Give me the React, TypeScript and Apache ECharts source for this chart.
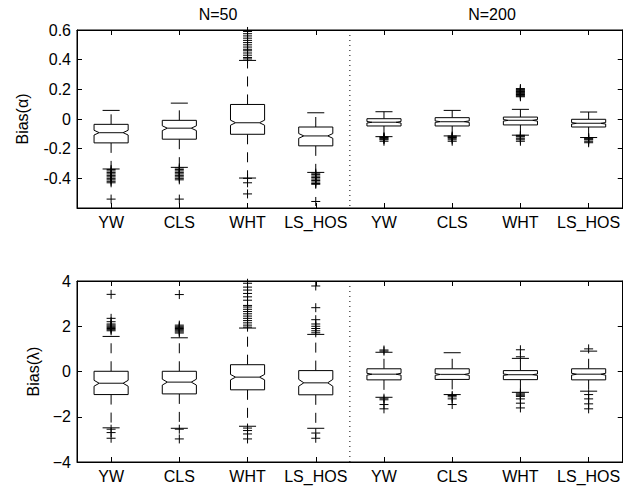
import React, { useEffect, useRef } from "react";
import * as echarts from "echarts";

const methods = ["YW", "CLS", "WHT", "LS_HOS"];
const sampleSizes = ["N=50", "N=200"];
const categories = sampleSizes.flatMap((n) => methods.map((m) => `${m}|${n}`));

// Bias(alpha) panel, boxes in order YW, CLS, WHT, LS_HOS (N=50) then (N=200)
const alphaWhiskerLow = [-0.337, -0.326, -0.398, -0.36, -0.119, -0.114, -0.109, -0.125];
const alphaQ1 = [-0.161, -0.136, -0.103, -0.181, -0.047, -0.047, -0.04, -0.054];
const alphaMedian = [-0.092, -0.062, -0.025, -0.114, -0.022, -0.018, -0.009, -0.029];
const alphaQ3 = [-0.036, -0.009, 0.098, -0.054, 0.002, 0.009, 0.013, -0.002];
const alphaWhiskerHigh = [0.058, 0.107, 0.395, 0.042, 0.049, 0.058, 0.065, 0.047];
const alphaNotch = [0.016, 0.016, 0.017, 0.016, 0.005, 0.005, 0.005, 0.005];
const alphaOutliers = [
  [-0.34, -0.35, -0.36, -0.37, -0.38, -0.39, -0.4, -0.41, -0.42, -0.43, -0.54],
  [-0.33, -0.34, -0.35, -0.36, -0.37, -0.38, -0.39, -0.4, -0.41, -0.54],
  [-0.4, -0.43, -0.505, 0.405, 0.415, 0.43, 0.445, 0.46, 0.47, 0.485, 0.5, 0.515, 0.53, 0.545, 0.56, 0.575, 0.59],
  [-0.365, -0.375, -0.385, -0.395, -0.405, -0.415, -0.425, -0.435, -0.44, -0.556],
  [-0.12, -0.125, -0.13, -0.135, -0.14, -0.15],
  [-0.115, -0.12, -0.125, -0.13, -0.14, -0.15],
  [-0.11, -0.115, -0.12, -0.13, -0.14, -0.15, 0.15, 0.155, 0.16, 0.165, 0.17, 0.175, 0.18, 0.185, 0.19, 0.195, 0.2, 0.205],
  [-0.125, -0.13, -0.135, -0.14, -0.15, -0.16],
];

// Bias(lambda) panel
const lambdaWhiskerLow = [-2.49, -2.51, -2.42, -2.51, -1.14, -1.02, -0.92, -0.87];
const lambdaQ1 = [-1.02, -0.99, -0.81, -1.03, -0.37, -0.35, -0.36, -0.37];
const lambdaMedian = [-0.52, -0.47, -0.25, -0.5, -0.12, -0.13, -0.14, -0.12];
const lambdaQ3 = [0.01, 0.01, 0.3, 0.04, 0.12, 0.12, 0.04, 0.12];
const lambdaWhiskerHigh = [1.55, 1.49, 1.92, 1.64, 0.85, 0.83, 0.58, 0.9];
const lambdaNotch = [0.13, 0.13, 0.12, 0.15, 0.04, 0.04, 0.03, 0.04];
const lambdaOutliers = [
  [1.8, 1.85, 1.9, 1.95, 2.0, 2.05, 2.1, 2.2, 2.35, 3.41, -2.55, -2.7, -2.95],
  [1.7, 1.75, 1.8, 1.85, 1.9, 1.95, 2.0, 2.05, 3.4, -2.55, -2.98],
  [1.96, 2.05, 2.15, 2.25, 2.35, 2.45, 2.55, 2.65, 2.75, 2.85, 2.92, 3.15, 3.3, 3.45, 3.6, 3.73, 3.9, -2.5, -2.61, -2.76, -2.98],
  [1.71, 1.8, 1.9, 2.0, 2.1, 2.29, 2.82, 3.78, -2.72, -2.95],
  [0.9, 0.95, -1.18, -1.25, -1.46, -1.65],
  [-1.06, -1.12, -1.21, -1.46],
  [0.65, 0.96, -0.95, -1.0, -1.05, -1.1, -1.21, -1.4, -1.61],
  [1.0, -1.02, -1.21, -1.43, -1.65],
];

const alphaTicks = { min: -0.6, max: 0.6, interval: 0.2 };
const lambdaTicks = { min: -4, max: 4, interval: 2 };

const FONT = "'Liberation Sans', Arial, Helvetica, sans-serif";

function boxData(wl: number[], q1: number[], med: number[], q3: number[], wh: number[], notch: number[]) {
  return categories.map((_, i) => [i, wl[i], q1[i], med[i] - notch[i], med[i], med[i] + notch[i], q3[i], wh[i]]);
}

function outlierData(out: number[][]) {
  const res: number[][] = [];
  out.forEach((arr, i) => arr.forEach((v) => res.push([i, v])));
  return res;
}

const renderBox = (params: any, api: any) => {
  const i = api.value(0);
  const xc = api.coord([i, 0])[0];
  const hw = api.size([1, 0])[0] * 0.25;
  const ind = hw * 0.3;
  const y = (k: number) => api.coord([i, api.value(k)])[1];
  const wl = y(1), q1 = y(2), nl = y(3), md = y(4), nh = y(5), q3 = y(6), wh = y(7);
  const solid = { stroke: "#000", lineWidth: 1, fill: null };
  const dash = { stroke: "#000", lineWidth: 1, fill: null, lineDash: [10, 8] };
  return {
    type: "group",
    children: [
      { type: "line", shape: { x1: xc, y1: q3, x2: xc, y2: wh }, style: dash },
      { type: "line", shape: { x1: xc, y1: q1, x2: xc, y2: wl }, style: dash },
      { type: "line", shape: { x1: xc - hw / 2, y1: wh, x2: xc + hw / 2, y2: wh }, style: solid },
      { type: "line", shape: { x1: xc - hw / 2, y1: wl, x2: xc + hw / 2, y2: wl }, style: solid },
      {
        type: "polygon",
        shape: {
          points: [
            [xc - hw, q1], [xc - hw, nl], [xc - hw + ind, md], [xc - hw, nh], [xc - hw, q3],
            [xc + hw, q3], [xc + hw, nh], [xc + hw - ind, md], [xc + hw, nl], [xc + hw, q1],
          ],
        },
        style: { fill: "#fff", stroke: "#000", lineWidth: 1 },
      },
      { type: "line", shape: { x1: xc - hw + ind, y1: md, x2: xc + hw - ind, y2: md }, style: { stroke: "#333", lineWidth: 1.2 } },
    ],
  };
};

const renderOutlier = (params: any, api: any) => {
  const p = api.coord([api.value(0), api.value(1)]);
  const s = 4.5;
  const st = { stroke: "#000", lineWidth: 1, fill: null };
  return {
    type: "group",
    children: [
      { type: "line", shape: { x1: p[0] - s, y1: p[1], x2: p[0] + s, y2: p[1] }, style: st },
      { type: "line", shape: { x1: p[0], y1: p[1] - s, x2: p[0], y2: p[1] + s }, style: st },
    ],
  };
};

const renderDivider = (params: any, api: any) => {
  const cs = params.coordSys;
  const x = (api.coord([3, 0])[0] + api.coord([4, 0])[0]) / 2;
  return {
    type: "line",
    shape: { x1: x, y1: cs.y, x2: x, y2: cs.y + cs.height },
    style: { stroke: "#000", lineWidth: 1, lineDash: [1, 4] },
  };
};

export default function App() {
  const ref = useRef<HTMLDivElement>(null);
  useEffect(() => {
    if (!ref.current) return;
    const chart = echarts.init(ref.current, null, { renderer: "svg" });
    const labelStyle = { fontFamily: FONT, fontSize: 16, color: "#000" };
    const xAxisFor = (gridIndex: number, position: string, showLabels: boolean) => ({
      type: "category",
      gridIndex,
      position,
      data: categories,
      boundaryGap: true,
      axisLine: { show: true, onZero: false, lineStyle: { color: "#000", width: 1 } },
      axisTick: { show: true, inside: true, length: 5, alignWithLabel: true, lineStyle: { color: "#000" } },
      axisLabel: {
        show: showLabels,
        ...labelStyle,
        margin: 6,
        interval: 0,
        formatter: (v: string) => v.split("|")[0],
      },
      splitLine: { show: false },
    });
    const fmtAlpha = (v: number) => {
      if (Math.abs(v - alphaTicks.min) < 1e-9) return "";
      const r = Math.round(v * 10) / 10;
      return r === 0 ? "0" : String(r);
    };
    const fmtLambda = (v: number) => {
      const r = Math.round(v);
      return r < 0 ? "\u2212" + Math.abs(r) : String(r);
    };
    const yAxisFor = (gridIndex: number, position: string, ticks: any, name: string, gap: number, fmt: any, showLabels: boolean) => ({
      type: "value",
      gridIndex,
      position,
      min: ticks.min,
      max: ticks.max,
      interval: ticks.interval,
      name: showLabels ? name : "",
      nameLocation: "middle",
      nameGap: gap,
      nameTextStyle: { fontFamily: FONT, fontSize: 16, color: "#000" },
      axisLine: { show: true, onZero: false, lineStyle: { color: "#000", width: 1 } },
      axisTick: { show: true, inside: true, length: 5, lineStyle: { color: "#000" } },
      axisLabel: { show: showLabels, ...labelStyle, margin: 6, formatter: fmt },
      splitLine: { show: false },
    });

    chart.setOption({
      animation: false,
      backgroundColor: "#fff",
      grid: [
        { left: 77, top: 30, width: 549, height: 178, show: true, borderColor: "#000", borderWidth: 1, backgroundColor: "transparent" },
        { left: 77, top: 281, width: 549, height: 181, show: true, borderColor: "#000", borderWidth: 1, backgroundColor: "transparent" },
      ],
      xAxis: [
        xAxisFor(0, "bottom", true),
        xAxisFor(0, "top", false),
        xAxisFor(1, "bottom", true),
        xAxisFor(1, "top", false),
      ],
      yAxis: [
        yAxisFor(0, "left", alphaTicks, "Bias(\u03b1)", 47, fmtAlpha, true),
        yAxisFor(0, "right", alphaTicks, "", 0, fmtAlpha, false),
        yAxisFor(1, "left", lambdaTicks, "Bias(\u03bb)", 33, fmtLambda, true),
        yAxisFor(1, "right", lambdaTicks, "", 0, fmtLambda, false),
      ],
      graphic: [
        {
          type: "text", x: 218, y: 14,
          style: { text: sampleSizes[0], font: `16px ${FONT}`, fill: "#000", textAlign: "center", textVerticalAlign: "middle", align: "center", verticalAlign: "middle" },
        },
        {
          type: "text", x: 492, y: 14,
          style: { text: sampleSizes[1], font: `16px ${FONT}`, fill: "#000", textAlign: "center", textVerticalAlign: "middle", align: "center", verticalAlign: "middle" },
        },
      ],
      series: [
        { type: "custom", xAxisIndex: 0, yAxisIndex: 0, data: [[0, 0]], renderItem: renderDivider, silent: true },
        { type: "custom", xAxisIndex: 2, yAxisIndex: 2, data: [[0, 0]], renderItem: renderDivider, silent: true },
        {
          type: "custom", xAxisIndex: 0, yAxisIndex: 0,
          data: boxData(alphaWhiskerLow, alphaQ1, alphaMedian, alphaQ3, alphaWhiskerHigh, alphaNotch),
          encode: { x: 0, y: [1, 2, 3, 4, 5, 6, 7] },
          renderItem: renderBox, silent: true,
        },
        {
          type: "custom", xAxisIndex: 2, yAxisIndex: 2,
          data: boxData(lambdaWhiskerLow, lambdaQ1, lambdaMedian, lambdaQ3, lambdaWhiskerHigh, lambdaNotch),
          encode: { x: 0, y: [1, 2, 3, 4, 5, 6, 7] },
          renderItem: renderBox, silent: true,
        },
        {
          type: "custom", xAxisIndex: 0, yAxisIndex: 0,
          data: outlierData(alphaOutliers), encode: { x: 0, y: 1 },
          renderItem: renderOutlier, silent: true,
        },
        {
          type: "custom", xAxisIndex: 2, yAxisIndex: 2,
          data: outlierData(lambdaOutliers), encode: { x: 0, y: 1 },
          renderItem: renderOutlier, silent: true,
        },
      ],
    });
    return () => chart.dispose();
  }, []);
  return <div ref={ref} style={{ position: "absolute", left: 0, top: 0, width: 623, height: 486 }} />;
}
